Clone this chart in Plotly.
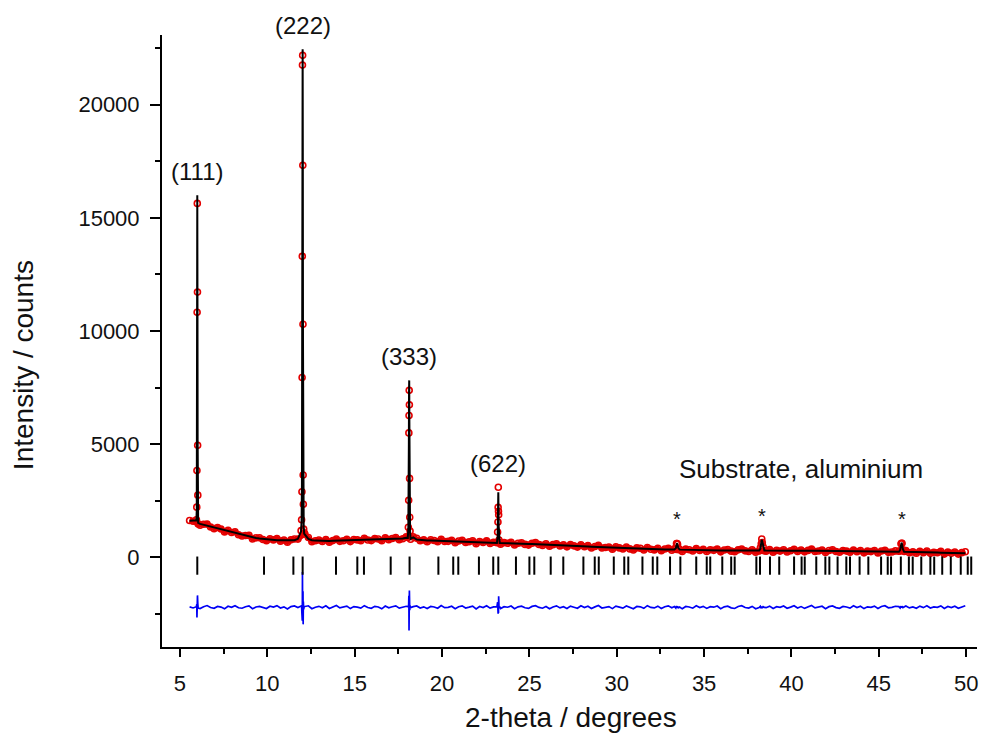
import plotly.graph_objects as go

# ---------------- data ----------------
GRID_START = 5.55          # 2-theta of the first background step
GRID_STEP = 0.2            # step between background samples

# calculated profile on the background grid (counts)
CALC_BG = [
    1620, 1630, 1650, 1480, 1440, 1400, 1360, 1320, 1290, 1250,
    1200, 1150, 1110, 1070, 1030, 990, 950, 915, 880, 855,
    830, 810, 795, 780, 770, 760, 755, 750, 748, 748,
    760, 820, 1200, 1000, 820, 760, 740, 730, 725, 725,
    728, 730, 735, 740, 745, 750, 760, 765, 770, 775,
    780, 785, 790, 795, 800, 805, 810, 812, 815, 818,
    820, 830, 870, 1500, 880, 790, 770, 760, 750, 745,
    740, 735, 730, 725, 720, 715, 710, 705, 700, 695,
    690, 685, 680, 675, 670, 665, 660, 660, 700, 640,
    630, 625, 620, 615, 610, 605, 600, 595, 590, 585,
    580, 575, 570, 562, 555, 548, 540, 532, 525, 518,
    510, 502, 495, 487, 480, 472, 465, 457, 450, 442,
    435, 428, 421, 415, 409, 403, 398, 393, 388, 383,
    378, 373, 368, 364, 360, 356, 352, 348, 345, 400,
    400, 338, 334, 330, 327, 324, 321, 318, 316, 314,
    312, 310, 309, 308, 307, 306, 305, 304, 303, 302,
    301, 300, 300, 320, 320, 300, 295, 290, 287, 285,
    285, 287, 290, 295, 300, 303, 300, 296, 292, 290,
    288, 286, 284, 282, 280, 278, 276, 274, 272, 270,
    268, 266, 264, 262, 260, 258, 256, 254, 252, 250,
    249, 248, 247, 270, 270, 244, 240, 236, 232, 228,
    224, 220, 217, 214, 211, 208, 205, 202, 199, 196,
    193, 190, 187,
]

# observed - calculated on the background grid (counts)
RESID_BG = [
    12, -35, 48, -60, 22, 71, -18, -52, 33, 5,
    -74, 41, -9, 63, -28, -47, 19, 56, -66, 8,
    37, -21, -58, 44, 2, 69, -39, 15, -80, 27,
    52, -13, -45, 30, 61, -70, -4, 38, -25, 58,
    -55, 11, 74, -32, -8, 46, -63, 24, 3, -41,
    66, -17, -50, 35, 9, -72, 50, -29, 18, 60,
    -44, -6, 40, -67, 25, 55, -36, 14, -57, 31,
    6, -48, 70, -22, -11, 43, -65, 20, 59, -38,
    1, 47, -76, 28, -15, 64, -43, 10, 36, -59,
    23, -3, 51, -68, 16, 42, -26, -53, 34, 67,
    -12, -46, 29, -71, 7, 57, -33, 21, -61, 45,
    -1, -49, 62, -19, 39, -56, 13, 72, -37, -7,
    26, -64, 48, 4, -42, 54, -23, -69, 32, 17,
    -51, 65, -10, -34, 44, -62, 19, 58, -27, -5,
    49, -73, 30, 9, -45, 61, -16, 37, -54, 24,
    -2, 53, -66, 15, 41, -31, -58, 28, 68, -14,
    -40, 35, -70, 11, 56, -24, 46, -60, 20, -8,
    50, -47, 3, 63, -35, 26, -55, 12, 71, -30,
    -9, 42, -65, 22, 57, -20, -52, 31, 6, -44,
    60, -18, 38, -63, 16, -4, 48, -57, 27, 66,
    -28, -11, 40, -69, 24, 52, -33, 8, -50, 45,
    -21, 59, -39, 14, -6, 55, -61, 29, -15, 43,
    -48, 18, 64, -26, -2, 36, -67, 21, -30, 44,
]

# Bragg reflections
P111_X = [5.94, 5.96, 5.97, 5.98, 5.99, 6.00, 6.01, 6.02, 6.04]
P111_CALC = [1640, 2100, 4300, 10500, 16000, 11200, 5200, 2600, 1520]
P111_RESID = [20, 120, -460, 330, -360, 520, -250, 150, -40]

P222_X = [11.93, 11.96, 11.98, 11.99, 12.00, 12.01, 12.02, 12.03, 12.04, 12.05, 12.06, 12.08, 12.11]
P222_CALC = [1150, 1600, 3200, 7500, 13900, 20200, 22450, 17900, 9600, 4400, 2100, 1350, 1050]
P222_RESID = [30, 60, -300, 450, -600, 1550, -270, -580, 700, -760, 250, -100, 40]

P333_X = [18.04, 18.07, 18.09, 18.10, 18.11, 18.12, 18.13, 18.14, 18.15, 18.17, 18.20]
P333_CALC = [860, 1300, 2400, 5000, 7300, 7820, 6000, 3600, 1900, 1100, 820]
P333_RESID = [20, 30, 120, 500, -1030, -440, 740, -110, -130, 60, -20]

P622_X = [23.14, 23.18, 23.20, 23.21, 23.22, 23.23, 23.24, 23.26, 23.30]
P622_CALC = [640, 900, 1700, 2500, 2880, 2300, 1400, 800, 640]
P622_RESID = [10, 220, -140, -290, 220, -260, 480, -30, 20]

# aluminium substrate reflections
AL1_X = [33.30, 33.38, 33.42, 33.45, 33.48, 33.52, 33.60]
AL1_CALC = [345, 400, 560, 630, 540, 420, 342]
AL1_RESID = [30, -40, 50, -20, 40, -30, 10]

AL2_X = [38.15, 38.22, 38.27, 38.30, 38.33, 38.38, 38.45]
AL2_CALC = [300, 380, 650, 780, 690, 450, 305]
AL2_RESID = [-20, 40, -50, 30, -40, 20, -10]

AL3_X = [46.15, 46.22, 46.27, 46.30, 46.33, 46.38, 46.45]
AL3_CALC = [248, 320, 560, 650, 580, 360, 244]
AL3_RESID = [25, -35, 40, -30, 45, -20, 15]

PEAK_LABELS = ["(111)", "(222)", "(333)", "(622)"]

# tick marks of allowed reflections (2-theta)
BRAGG_POS = [
    5.99, 9.81, 11.49, 12.02, 13.93, 15.15, 15.53, 17.06, 18.14, 19.79,
    20.64, 20.93, 22.11, 22.93, 23.22, 24.23, 25.00, 25.28, 26.22, 26.94,
    28.09, 28.74, 28.97, 29.83, 30.43, 30.66, 31.47, 32.06, 32.32, 33.05,
    33.64, 34.55, 35.15, 35.35, 36.04, 36.55, 36.75, 37.99, 38.20, 38.77,
    39.30, 40.15, 40.58, 40.76, 41.42, 41.94, 42.17, 42.64, 43.14, 43.35,
    43.90, 44.40, 45.13, 45.51, 45.70, 46.26, 46.72, 46.94, 47.43, 47.95,
    48.17, 48.63, 49.12, 49.69, 50.09, 50.29,
]

DIFF_OFFSET = -2200     # difference curve shift
BRAGG_ROW = -365        # level of the reflection tick row

# ---------------- assemble ----------------
peaks = [
    (P111_X, P111_CALC, P111_RESID),
    (P222_X, P222_CALC, P222_RESID),
    (P333_X, P333_CALC, P333_RESID),
    (P622_X, P622_CALC, P622_RESID),
    (AL1_X, AL1_CALC, AL1_RESID),
    (AL2_X, AL2_CALC, AL2_RESID),
    (AL3_X, AL3_CALC, AL3_RESID),
]
windows = [(min(px) - 1e-6, max(px) + 1e-6) for px, _, _ in peaks]

n = len(CALC_BG)
grid_x = [round(GRID_START + GRID_STEP * i, 4) for i in range(n)]
bg_pts = []
for gx, c, r in zip(grid_x, CALC_BG, RESID_BG[:n]):
    if not any(lo <= gx <= hi for lo, hi in windows):
        bg_pts.append((gx, c, r))
pts = list(bg_pts)
for px, pc, pr in peaks:
    pts.extend(zip(px, pc, pr))
pts.sort()

tt = [p[0] for p in pts]
calc = [p[1] for p in pts]
obs = [p[1] + p[2] for p in pts]
diff = [p[2] + DIFF_OFFSET for p in pts]

bg_tt = [p[0] for p in bg_pts]
bg_obs = [p[1] + p[2] for p in bg_pts]

FONT = "Arial, Liberation Sans, sans-serif"
RED = "rgb(228,0,0)"

fig = go.Figure()
# dense red band of the observed background scan
fig.add_trace(go.Scatter(
    x=bg_tt, y=bg_obs, mode="lines", name="obs band",
    line=dict(color=RED, width=5), hoverinfo="skip",
))
fig.add_trace(go.Scatter(
    x=tt, y=obs, mode="markers", name="obs",
    marker=dict(symbol="circle-open", size=6, color=RED,
                line=dict(width=1.6, color=RED)),
))
fig.add_trace(go.Scatter(
    x=tt, y=calc, mode="lines", name="calc",
    line=dict(color="black", width=2),
))
fig.add_trace(go.Scatter(
    x=tt, y=diff, mode="lines", name="diff",
    line=dict(color="rgb(0,0,245)", width=1.7),
))
fig.add_trace(go.Scatter(
    x=BRAGG_POS, y=[BRAGG_ROW] * len(BRAGG_POS), mode="markers", name="hkl",
    marker=dict(symbol="line-ns-open", size=13, color="black",
                line=dict(width=2, color="#222")),
))

annotations = []
for (px, pc, pr), lab in zip(peaks[:4], PEAK_LABELS):
    tops = [max(c, c + r) for c, r in zip(pc, pr)]
    k = tops.index(max(tops))
    annotations.append(dict(
        x=px[pc.index(max(pc))], y=tops[k], xref="x", yref="y", text=lab,
        showarrow=False, yanchor="bottom", yshift=8,
        font=dict(family=FONT, size=24, color="#111"),
    ))
for px, pc, _ in peaks[4:]:
    k = pc.index(max(pc))
    annotations.append(dict(
        x=px[k], y=pc[k], xref="x", yref="y", text="*", showarrow=False,
        yanchor="bottom", yshift=11, font=dict(family=FONT, size=20, color="#111"),
    ))
annotations.append(dict(
    x=40.55, y=3890, xref="x", yref="y", text="Substrate, aluminium",
    showarrow=False, xanchor="center", yanchor="middle",
    font=dict(family=FONT, size=26, color="#111"),
))
annotations.append(dict(
    x=-0.169, y=0.461, xref="paper", yref="paper", text="Intensity / counts",
    showarrow=False, textangle=-90, xanchor="center", yanchor="middle",
    font=dict(family=FONT, size=28, color="#111"),
))
annotations.append(dict(
    x=0.502, y=-0.116, xref="paper", yref="paper", text="2-theta / degrees",
    showarrow=False, xanchor="center", yanchor="middle",
    font=dict(family=FONT, size=28, color="#111"),
))

fig.update_layout(
    width=982, height=736,
    margin=dict(l=162, r=5, t=35, b=89),
    paper_bgcolor="white", plot_bgcolor="white",
    showlegend=False,
    font=dict(family=FONT, color="#111"),
    annotations=annotations,
    xaxis=dict(
        range=[3.97, 50.62], showgrid=False, zeroline=False,
        showline=True, linecolor="black", linewidth=2,
        ticks="outside", ticklen=8, tickwidth=2, tickcolor="black",
        tick0=5, dtick=5, ticklabelstandoff=8,
        tickfont=dict(family=FONT, size=22, color="#111"),
        minor=dict(ticks="outside", ticklen=5, tickwidth=2, tickcolor="black",
                   tick0=2.5, dtick=2.5),
    ),
    yaxis=dict(
        range=[-3960, 23080], showgrid=False, zeroline=False,
        showline=True, linecolor="black", linewidth=2,
        ticks="outside", ticklen=10, tickwidth=2, tickcolor="black",
        tick0=0, dtick=5000, tickformat="d", ticklabelstandoff=6,
        tickfont=dict(family=FONT, size=22, color="#111"),
        minor=dict(ticks="outside", ticklen=5, tickwidth=2, tickcolor="black",
                   tick0=0, dtick=2500),
    ),
)

fig.write_html("out.html")
